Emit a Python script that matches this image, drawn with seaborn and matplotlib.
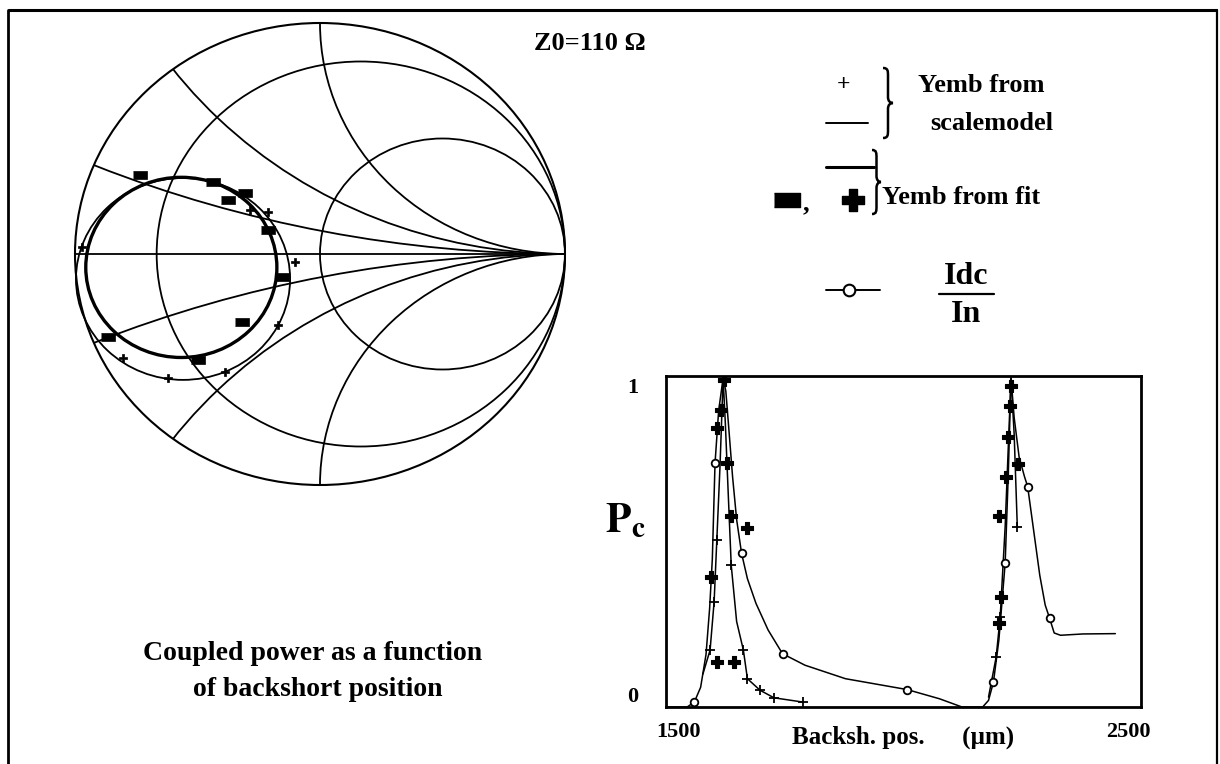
import numpy as np
import matplotlib
matplotlib.use("Agg")
import matplotlib.pyplot as plt
import seaborn as sns
from matplotlib.patches import Circle, PathPatch
from matplotlib.path import Path

# ---------------- data ----------------
# Smith chart grid (normalised to Z0)
resistance_values = [0.2, 1.0]
reactance_values = [0.2, 0.5, 1.0, -0.2, -0.5, -1.0]

# Embedding-admittance loci in the reflection plane: (centre re, centre im, radius)
fit_locus = (-0.566, -0.058, 0.39)
scale_locus = (-0.559, -0.108, 0.437)

# Yemb from fit (filled rectangles)
fit_re = [-0.735, -0.437, -0.306, -0.376, -0.212, -0.155, -0.318, -0.865, -0.498]
fit_im = [0.342, 0.312, 0.264, 0.234, 0.104, -0.100, -0.294, -0.359, -0.459]
# Yemb from scale model (+)
scale_re = [-0.286, -0.212, -0.102, -0.171, -0.388, -0.620, -0.804, -0.971]
scale_im = [0.190, 0.182, -0.035, -0.307, -0.511, -0.537, -0.450, 0.030]

# Coupled power vs backshort position (um)
idc_x = [1473, 1520, 1536, 1550, 1562, 1570, 1576, 1582, 1590, 1600, 1606, 1613,
         1621, 1630, 1641, 1654, 1673, 1700, 1732, 1782, 1872, 2009, 2081, 2131,
         2177, 2190, 2201, 2213, 2227, 2234, 2240, 2247, 2258, 2270, 2277, 2290,
         2304, 2316, 2326, 2336, 2350, 2400, 2472]
idc_y = [0.0, 0.0, 0.015, 0.06, 0.16, 0.30, 0.45, 0.741, 0.90, 1.0, 0.96, 0.84,
         0.70, 0.57, 0.467, 0.39, 0.315, 0.234, 0.162, 0.127, 0.086, 0.053, 0.025, 0.0,
         0.0, 0.02, 0.076, 0.203, 0.437, 0.71, 1.0, 0.88, 0.76, 0.70, 0.67, 0.54,
         0.40, 0.31, 0.269, 0.225, 0.218, 0.222, 0.223]
idc_mark_x = [1536, 1582, 1641, 1732, 2009, 2201, 2227, 2277, 2326]
idc_mark_y = [0.015, 0.741, 0.467, 0.162, 0.053, 0.076, 0.437, 0.67, 0.269]

sm_left_x = [1555, 1571, 1580, 1586, 1593, 1600, 1605, 1611, 1618, 1630, 1645,
             1654, 1682, 1713, 1777]
sm_left_y = [0.10, 0.173, 0.32, 0.508, 0.73, 1.0, 0.86, 0.66, 0.431, 0.26, 0.173,
             0.086, 0.051, 0.028, 0.015]
sm_right_x = [2190, 2207, 2216, 2227, 2240, 2247, 2254]
sm_right_y = [0.03, 0.152, 0.274, 0.548, 1.0, 0.83, 0.548]
sm_mark_x = [1571, 1580, 1586, 1618, 1645, 1654, 1682, 1713, 1777, 2207, 2216, 2254]
sm_mark_y = [0.173, 0.32, 0.508, 0.431, 0.173, 0.086, 0.051, 0.028, 0.015, 0.152, 0.274, 0.548]

fitp_x = [1573, 1586, 1595, 1602, 1609, 1618, 1654, 1586, 1625,
          2213, 2218, 2213, 2229, 2234, 2237, 2241, 2255]
fitp_y = [0.396, 0.848, 0.904, 0.995, 0.741, 0.579, 0.543, 0.137, 0.137,
          0.579, 0.335, 0.254, 0.70, 0.822, 0.914, 0.975, 0.74]

x_ticks = [1500, 2500]
y_ticks = [0, 1]

# ---------------- style ----------------
sns.set_theme(style="white")
plt.rcParams['font.family'] = ['Liberation Serif', 'DejaVu Serif']
plt.rcParams['mathtext.fontset'] = 'stix'
K = 'black'
for key in ['text.color', 'axes.labelcolor', 'xtick.color', 'ytick.color']:
    plt.rcParams[key] = K

fig = plt.figure(figsize=(12.2, 7.64), dpi=100)
fig.patch.set_facecolor('white')

# overlay in pixel coordinates for frame and free texts
ax0 = fig.add_axes([0, 0, 1, 1], zorder=0)
ax0.set_xlim(0, 1220)
ax0.set_ylim(764, 0)
ax0.axis('off')

# figure frame
ax0.plot([8, 1217], [10, 10], color=K, lw=2.2, solid_capstyle='butt')
ax0.plot([8, 8], [10, 764], color=K, lw=2.0)
ax0.plot([1217, 1217], [10, 764], color=K, lw=1.6)

# ---------------- Smith chart ----------------
ax = fig.add_axes([0.05143, 0.35007, 0.42172, 0.63495], zorder=2)
ax.set_xlim(-1.05, 1.05)
ax.set_ylim(-1.05, 1.05)
ax.axis('off')

GLW = 1.3
unit = Circle((0, 0), 1.0, fill=False, ec=K, lw=1.5, transform=ax.transData)
ax.add_patch(unit)
for r in resistance_values:
    ax.add_patch(Circle((r / (1 + r), 0), 1 / (1 + r), fill=False, ec=K, lw=GLW))
for xv in reactance_values:
    c = Circle((1, 1 / xv), abs(1 / xv), fill=False, ec=K, lw=GLW)
    ax.add_patch(c)
    c.set_clip_path(unit)
sns.lineplot(x=[-1, 1], y=[0, 0], color=K, lw=GLW, ax=ax, sort=False, estimator=None)

ax.add_patch(Circle(fit_locus[:2], fit_locus[2], fill=False, ec=K, lw=2.4))
ax.add_patch(Circle(scale_locus[:2], scale_locus[2], fill=False, ec=K, lw=1.3))

rect = [(-1, -0.55), (1, -0.55), (1, 0.55), (-1, 0.55)]
sns.scatterplot(x=fit_re, y=fit_im, marker=rect, s=110, color=K, edgecolor=K,
                linewidth=0.5, ax=ax, legend=False, zorder=5)
sns.scatterplot(x=scale_re, y=scale_im, marker='P', s=28, color=K, edgecolor=K,
                linewidth=0.5, ax=ax, legend=False, zorder=5)

# ---------------- coupled power plot ----------------
ax2 = fig.add_axes([666 / 1220, 1 - 707 / 764, 475 / 1220, 331 / 764], zorder=3)
sns.lineplot(x=idc_x, y=idc_y, sort=False, estimator=None, color=K, lw=1.1, ax=ax2)
sns.lineplot(x=sm_left_x, y=sm_left_y, sort=False, estimator=None, color=K, lw=1.1, ax=ax2)
sns.lineplot(x=sm_right_x, y=sm_right_y, sort=False, estimator=None, color=K, lw=1.1, ax=ax2)
sns.scatterplot(x=idc_mark_x, y=idc_mark_y, marker='o', s=30, color='white',
                edgecolor=K, linewidth=1.3, ax=ax2, legend=False, zorder=4)
sns.scatterplot(x=sm_mark_x, y=sm_mark_y, marker='+', s=45, color=K,
                linewidth=1.3, ax=ax2, legend=False, zorder=4)
sns.scatterplot(x=fitp_x, y=fitp_y, marker='P', s=80, color=K, edgecolor=K,
                linewidth=0.8, ax=ax2, legend=False, zorder=5)

ax2.set_xlim(1473, 2529)
ax2.set_ylim(0, 1.006)
ax2.set_xticks(x_ticks)
ax2.set_xticklabels([str(v) for v in x_ticks], fontsize=16, fontweight='bold')
ax2.set_yticks(y_ticks)
ylabs = ax2.set_yticklabels([str(v) for v in y_ticks], fontsize=16, fontweight='bold')
ylabs[0].set_va('bottom')
ylabs[1].set_va('top')
ax2.tick_params(axis='both', length=0)
ax2.tick_params(axis='x', pad=11)
ax2.tick_params(axis='y', pad=20)
for s in ax2.spines.values():
    s.set_color(K)
    s.set_linewidth(2.0)
ax2.set_xlabel("Backsh. pos.      (\u00b5m)", fontsize=18, fontweight='bold', va='center')
ax2.xaxis.set_label_coords(0.5, -0.09)
ax2.set_ylabel(r"$\mathbf{P}_{\mathbf{c}}$", fontsize=30, rotation=0, va='center', ha='center')
ax2.yaxis.set_label_coords(-0.085, 0.56)

# ---------------- free texts ----------------
ax0.text(590, 44, "Z0=110 \u03a9", fontsize=19, fontweight='bold', ha='center', va='center')
ax0.text(313, 654, "Coupled power as a function", fontsize=20, fontweight='bold',
         ha='center', va='center')
ax0.text(318, 690, "of backshort position", fontsize=20, fontweight='bold',
         ha='center', va='center')


def brace(x, y0, y1, w=10, lw=1.8):
    ym = (y0 + y1) / 2
    h = w * 0.5
    verts = [(x, y0),
             (x + h, y0), (x + h, y0 + 3), (x + h, y0 + 8),
             (x + h, ym - 6),
             (x + h, ym - 2), (x + h + 2, ym), (x + w, ym),
             (x + h + 2, ym), (x + h, ym + 2), (x + h, ym + 6),
             (x + h, y1 - 8),
             (x + h, y1 - 3), (x + h, y1), (x, y1)]
    codes = [Path.MOVETO,
             Path.CURVE4, Path.CURVE4, Path.CURVE4,
             Path.LINETO,
             Path.CURVE4, Path.CURVE4, Path.CURVE4,
             Path.CURVE4, Path.CURVE4, Path.CURVE4,
             Path.LINETO,
             Path.CURVE4, Path.CURVE4, Path.CURVE4]
    ax0.add_patch(PathPatch(Path(verts, codes), fill=False, ec=K, lw=lw))


# legend block
ax0.text(843, 84, "+", fontsize=17, fontweight='bold', ha='center', va='center')
ax0.plot([826, 868], [123, 123], color=K, lw=1.4)
brace(883, 68, 138)
ax0.text(918, 86, "Yemb from", fontsize=19, fontweight='bold', ha='left', va='center')
ax0.text(930, 124, "scalemodel", fontsize=19, fontweight='bold', ha='left', va='center')

ax0.plot([826, 874], [167, 167], color=K, lw=2.2)
ax0.scatter([787], [200], marker=rect, s=330, color=K, zorder=3)
ax0.text(806, 204, ",", fontsize=19, fontweight='bold', ha='center', va='center')
ax0.scatter([853], [200], marker='P', s=230, color=K, zorder=3)
brace(872, 150, 214, w=9)
ax0.text(882, 198, "Yemb from fit", fontsize=19, fontweight='bold', ha='left', va='center')

ax0.plot([826, 880], [290, 290], color=K, lw=1.4)
ax0.scatter([849], [290], marker='o', s=70, facecolor='white', edgecolor=K,
            linewidth=1.5, zorder=3)
ax0.text(966, 276, "Idc", fontsize=23, fontweight='bold', ha='center', va='center')
ax0.plot([939, 994], [294, 294], color=K, lw=1.6)
ax0.text(966, 314, "In", fontsize=23, fontweight='bold', ha='center', va='center')

fig.savefig("out.png", dpi=100, facecolor='white')
